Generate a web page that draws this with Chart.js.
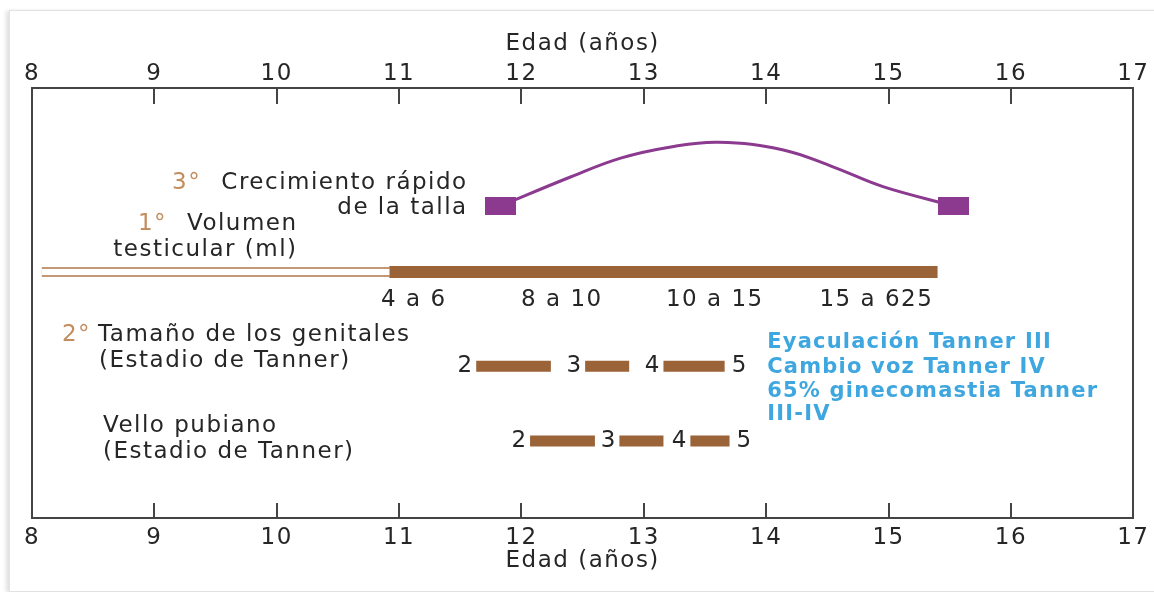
<!DOCTYPE html>
<html>
<head>
<meta charset="utf-8">
<script src="https://cdn.jsdelivr.net/npm/chart.js@4.4.0/dist/chart.umd.min.js"></script>
<style>
  body { margin: 0; background: #fff; }
  #frame { position: absolute; left: 9px; top: 10px; width: 1160px; height: 580px;
           border: 1px solid #e2e2e2; box-shadow: -3px 1px 4px rgba(0,0,0,0.12); }
  #wrap { position: absolute; left: 0; top: 0; width: 1154px; height: 592px; }
</style>
</head>
<body>
<div id="frame"></div>
<div id="wrap"><canvas id="pubertad"></canvas></div>
<script>
// eje de edad
const edadTicks = [8, 9, 10, 11, 12, 13, 14, 15, 16, 17];

// 3° crecimiento rápido de la talla
const tallaEdad = [11.83, 12.4, 12.81, 13.22, 13.61, 14.14, 14.55, 14.96, 15.53];
const tallaVel  = [72.6, 79.3, 83.7, 86.3, 87.4, 85.6, 81.6, 77.0, 72.6];

// 1° volumen testicular (ml)
const volPrevio = [8.08, 10.92];
const volTramo = [10.92, 15.40];
const volLabels = ['4 a 6', '8 a 10', '10 a 15', '15 a 625'];
const volLabelEdad = [11.12, 12.33, 13.58, 14.90];

// 2° tamaño de los genitales (Tanner)
const genEstadios = ['2', '3', '4', '5'];
const genInicio = [11.63, 12.52, 13.16];
const genFin = [12.24, 12.88, 13.66];

// vello pubiano (Tanner)
const velloEstadios = ['2', '3', '4', '5'];
const velloInicio = [12.07, 12.80, 13.38];
const velloFin = [12.60, 13.16, 13.70];

const notas = ['Eyaculación Tanner III', 'Cambio voz Tanner IV', '65% ginecomastia Tanner', 'III-IV'];

// filas (escala vertical 0-100)
const FILA_VOL = 57.2, FILA_GEN = 35.3, FILA_VELLO = 17.9;

const FONT = 'DejaVu Sans';
const SPACING = '1.5px';
const TXT = '#262626';
const MARRON = '#9a6338';
const MARRON_CLARO = '#c59875';
const ORDINAL = '#c48d5e';
const MORADO = '#8b3a8f';
const AZUL = '#3ea7df';

function tramos(inicio, fin, y) {
  const pts = [];
  inicio.forEach((a, i) => {
    if (i > 0) pts.push({x: a, y: null});
    pts.push({x: a, y: y}, {x: fin[i], y: y});
  });
  return pts;
}

function marcaTalla() {
  const c = document.createElement('canvas');
  c.width = 31; c.height = 18;
  const g = c.getContext('2d');
  g.fillStyle = MORADO;
  g.fillRect(0, 0, 31, 18);
  return c;
}
const marca = marcaTalla();

const textos = {
  id: 'textos',
  beforeDraw(chart) {
    chart.ctx.letterSpacing = SPACING;
  },
  afterDraw(chart) {
    const {ctx, chartArea: a, scales: {x, y}} = chart;
    ctx.save();
    ctx.letterSpacing = SPACING;

    // marcas interiores del eje
    ctx.strokeStyle = '#444';
    ctx.lineWidth = 2;
    x.ticks.forEach(t => {
      if (t.value <= x.min || t.value >= x.max) return;
      const px = Math.round(x.getPixelForValue(t.value));
      ctx.beginPath();
      ctx.moveTo(px, a.top); ctx.lineTo(px, a.top + 16);
      ctx.moveTo(px, a.bottom); ctx.lineTo(px, a.bottom - 15);
      ctx.stroke();
    });

    ctx.textBaseline = 'middle';
    function t(s, ex, vy, align, color, bold) {
      ctx.font = bold ? 'bold 21px ' + FONT : '23px ' + FONT;
      ctx.letterSpacing = bold ? '1.2px' : SPACING;
      ctx.fillStyle = color || TXT;
      ctx.textAlign = align;
      ctx.fillText(s, x.getPixelForValue(ex), y.getPixelForValue(vy));
    }

    t('3°', 9.144, 77.9, 'left', ORDINAL);
    t('Crecimiento rápido', 11.56, 77.9, 'right');
    t('de la talla', 11.56, 72.1, 'right');
    t('1°', 8.866, 68.4, 'left', ORDINAL);
    t('Volumen', 10.17, 68.4, 'right');
    t('testicular (ml)', 10.17, 62.3, 'right');
    t('2°', 8.245, 42.6, 'left', ORDINAL);
    t('Tamaño de los genitales', 8.54, 42.6, 'left');
    t('(Estadio de Tanner)', 8.548, 36.5, 'left');
    t('Vello pubiano', 8.58, 21.4, 'left');
    t('(Estadio de Tanner)', 8.58, 15.3, 'left');

    volLabels.forEach((s, i) => t(s, volLabelEdad[i], 50.7, 'center'));

    const estadios = (nums, ini, fin, fila) => {
      ctx.font = '23px ' + FONT;
      ctx.letterSpacing = '0px';
      ctx.fillStyle = TXT;
      nums.forEach((s, i) => {
        if (i < ini.length) {
          ctx.textAlign = 'right';
          ctx.fillText(s, x.getPixelForValue(ini[i]) - 4, y.getPixelForValue(fila));
        } else {
          ctx.textAlign = 'left';
          ctx.fillText(s, x.getPixelForValue(fin[fin.length - 1]) + 7, y.getPixelForValue(fila));
        }
      });
    };
    estadios(genEstadios, genInicio, genFin, FILA_GEN);
    estadios(velloEstadios, velloInicio, velloFin, FILA_VELLO);

    const notaY = [40.9, 35.1, 29.5, 24.0];
    notas.forEach((s, i) => t(s, 14.008, notaY[i], 'left', AZUL, true));

    ctx.restore();
  }
};

const ejeX = (pos) => ({
  type: 'linear',
  position: pos,
  min: 8,
  max: 17,
  afterBuildTicks: s => { s.ticks = edadTicks.map(v => ({value: v})); },
  afterFit: s => { s.height = pos === 'top' ? 88 : 74; },
  grid: {display: false, drawTicks: false},
  border: {display: true, color: '#444', width: 2},
  ticks: {padding: pos === 'top' ? 0 : 6, color: TXT, font: {family: FONT, size: 23}},
  title: {
    display: true, text: 'Edad (años)', color: TXT,
    font: {family: FONT, size: 23},
    padding: pos === 'top' ? {top: 30, bottom: 0} : {top: 0, bottom: 17}
  }
});

const ejeY = (pos, w) => ({
  type: 'linear',
  position: pos,
  min: 0,
  max: 100,
  afterFit: s => { s.width = w; },
  grid: {display: false, drawTicks: false},
  border: {display: true, color: '#444', width: 2},
  ticks: {display: false}
});

const linea = (data, color, width, order) => ({
  type: 'line',
  data: data,
  borderColor: color,
  borderWidth: width,
  borderCapStyle: 'butt',
  pointRadius: 0,
  xAxisID: 'x',
  yAxisID: 'y',
  order: order
});

new Chart(document.getElementById('pubertad'), {
  type: 'line',
  data: {
    datasets: [
      {
        data: tallaEdad.map((e, i) => ({x: e, y: tallaVel[i]})),
        borderColor: MORADO,
        borderWidth: 3,
        tension: 0.4,
        pointStyle: marca,
        pointRadius: tallaEdad.map((e, i) => (i === 0 || i === tallaEdad.length - 1) ? 5 : 0),
        xAxisID: 'x',
        yAxisID: 'y',
        order: 0
      },
      linea([{x: volPrevio[0], y: FILA_VOL}, {x: volPrevio[1], y: FILA_VOL}], '#fff', 6, 1),
      linea([{x: volPrevio[0], y: FILA_VOL}, {x: volPrevio[1], y: FILA_VOL}], MARRON_CLARO, 10, 2),
      linea([{x: volTramo[0], y: FILA_VOL}, {x: volTramo[1], y: FILA_VOL}], MARRON, 12, 1),
      linea(tramos(genInicio, genFin, FILA_GEN), MARRON, 11, 1),
      linea(tramos(velloInicio, velloFin, FILA_VELLO), MARRON, 11, 1)
    ]
  },
  options: {
    responsive: true,
    maintainAspectRatio: false,
    animation: false,
    events: [],
    layout: {padding: 0},
    plugins: {legend: {display: false}, tooltip: {enabled: false}},
    scales: {
      x: ejeX('bottom'),
      x2: ejeX('top'),
      y: ejeY('left', 32),
      y2: ejeY('right', 20)
    }
  },
  plugins: [textos]
});
</script>
</body>
</html>
